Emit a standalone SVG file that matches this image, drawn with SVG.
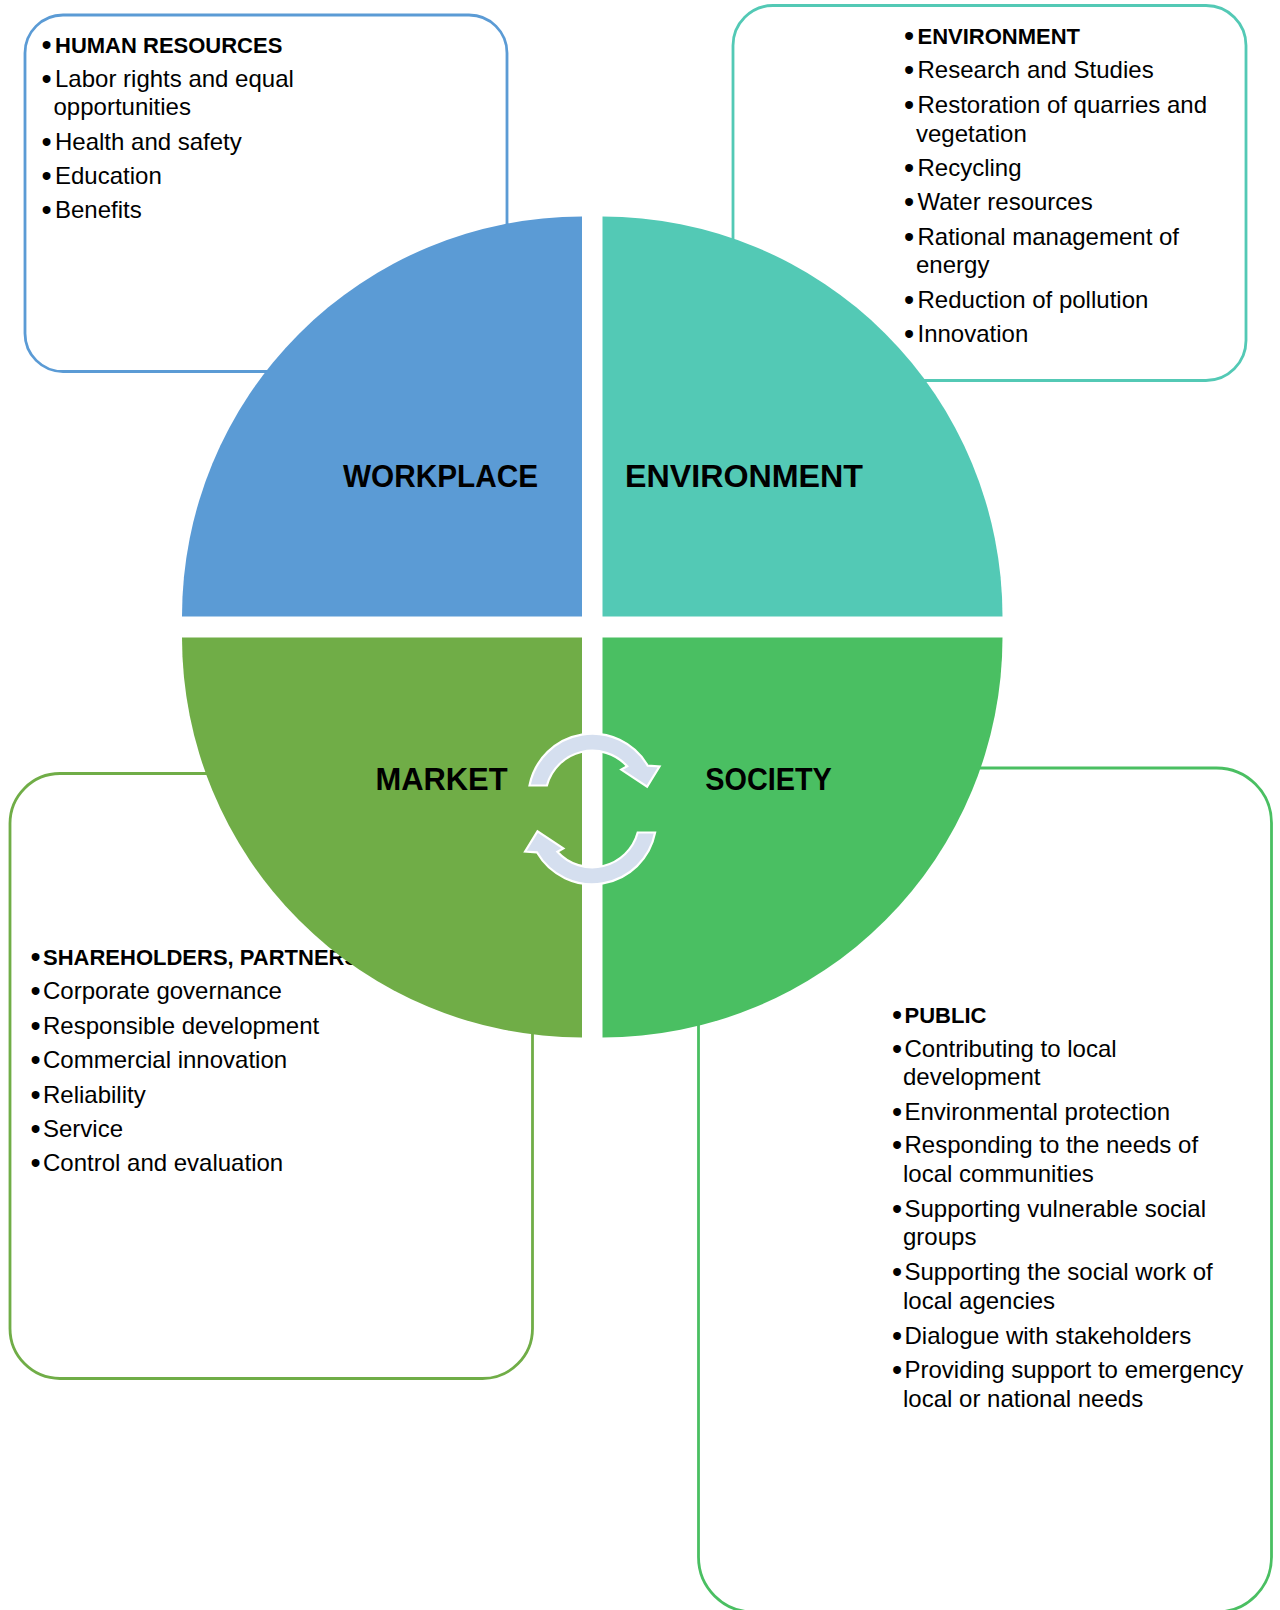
<svg xmlns="http://www.w3.org/2000/svg" width="1280" height="1610" viewBox="0 0 1280 1610">
  <style>
    .box { fill: #FFFFFF; stroke-width: 2.8; }
    .b-blue { stroke: #5B9BD5; }
    .b-teal { stroke: #53C9B5; }
    .b-olive { stroke: #70AD47; }
    .b-green { stroke: #4ABF62; }
    .item { font-family: "Liberation Sans", Arial, sans-serif; font-size: 24px; fill: #000000; }
    .head { font-family: "Liberation Sans", Arial, sans-serif; font-size: 22px; font-weight: bold; fill: #000000; }
    .dot { font-size: 29px; font-weight: normal; }
    .label { font-family: "Liberation Sans", Arial, sans-serif; font-size: 32px; font-weight: bold; fill: #000000; }
    .cyc { fill: #D5DFEF; stroke: #FFFFFF; stroke-width: 2.2; stroke-linejoin: miter; }
  </style>
  <defs>
    <!-- one curved arrow of the cycle; the second is the same shape turned half a turn -->
    <path id="cycle-arrow" d="M529.5,785.5 A64,64 0 0 1 647.7,765.7 L659.5,766.5 L647.1,786.6 L621.3,769.6 L627.2,766.3 A47,47 0 0 0 546.9,785.5 Z"/>
  </defs>

  <rect width="1280" height="1610" fill="#FFFFFF"/>

  <!-- detail boxes (drawn under the circle) -->
  <g id="box-human-resources">
    <rect class="box b-blue" x="25" y="15" width="482" height="356.5" rx="38" ry="38"/>
    <text class="head" y="52.7"><tspan class="dot" x="41.5" baseline-shift="-1.5">•</tspan><tspan x="55">HUMAN RESOURCES</tspan></text>
    <text class="item" y="87.3"><tspan class="dot" x="41.5" baseline-shift="-1.5">•</tspan><tspan x="55">Labor rights and equal</tspan></text>
    <text class="item" x="53.5" y="115">opportunities</text>
    <text class="item" y="150"><tspan class="dot" x="41.5" baseline-shift="-1.5">•</tspan><tspan x="55">Health and safety</tspan></text>
    <text class="item" y="184.3"><tspan class="dot" x="41.5" baseline-shift="-1.5">•</tspan><tspan x="55">Education</tspan></text>
    <text class="item" y="218.3"><tspan class="dot" x="41.5" baseline-shift="-1.5">•</tspan><tspan x="55">Benefits</tspan></text>
  </g>

  <g id="box-environment">
    <rect class="box b-teal" x="733" y="5.5" width="513" height="375" rx="40" ry="40"/>
    <text class="head" y="44"><tspan class="dot" x="904" baseline-shift="-1.5">•</tspan><tspan x="917.5">ENVIRONMENT</tspan></text>
    <text class="item" y="78.3"><tspan class="dot" x="904" baseline-shift="-1.5">•</tspan><tspan x="917.5">Research and Studies</tspan></text>
    <text class="item" y="113.3"><tspan class="dot" x="904" baseline-shift="-1.5">•</tspan><tspan x="917.5">Restoration of quarries and</tspan></text>
    <text class="item" x="916" y="141.7">vegetation</text>
    <text class="item" y="176"><tspan class="dot" x="904" baseline-shift="-1.5">•</tspan><tspan x="917.5">Recycling</tspan></text>
    <text class="item" y="210"><tspan class="dot" x="904" baseline-shift="-1.5">•</tspan><tspan x="917.5">Water resources</tspan></text>
    <text class="item" y="245"><tspan class="dot" x="904" baseline-shift="-1.5">•</tspan><tspan x="917.5">Rational management of</tspan></text>
    <text class="item" x="916" y="273.3">energy</text>
    <text class="item" y="308.3"><tspan class="dot" x="904" baseline-shift="-1.5">•</tspan><tspan x="917.5">Reduction of pollution</tspan></text>
    <text class="item" y="341.7"><tspan class="dot" x="904" baseline-shift="-1.5">•</tspan><tspan x="917.5">Innovation</tspan></text>
  </g>

  <g id="box-shareholders">
    <rect class="box b-olive" x="10" y="773.5" width="522.5" height="605" rx="50" ry="50"/>
    <text class="head" y="965"><tspan class="dot" x="30.5" baseline-shift="-1.5">•</tspan><tspan x="43">SHAREHOLDERS, PARTNERS</tspan></text>
    <text class="item" y="999.3"><tspan class="dot" x="30.5" baseline-shift="-1.5">•</tspan><tspan x="43">Corporate governance</tspan></text>
    <text class="item" y="1034.3"><tspan class="dot" x="30.5" baseline-shift="-1.5">•</tspan><tspan x="43">Responsible development</tspan></text>
    <text class="item" y="1068.3"><tspan class="dot" x="30.5" baseline-shift="-1.5">•</tspan><tspan x="43">Commercial innovation</tspan></text>
    <text class="item" y="1102.7"><tspan class="dot" x="30.5" baseline-shift="-1.5">•</tspan><tspan x="43">Reliability</tspan></text>
    <text class="item" y="1136.7"><tspan class="dot" x="30.5" baseline-shift="-1.5">•</tspan><tspan x="43">Service</tspan></text>
    <text class="item" y="1170.7"><tspan class="dot" x="30.5" baseline-shift="-1.5">•</tspan><tspan x="43">Control and evaluation</tspan></text>
  </g>

  <g id="box-public">
    <rect class="box b-green" x="698.5" y="768" width="573" height="844" rx="55" ry="55"/>
    <text class="head" y="1023.3"><tspan class="dot" x="892" baseline-shift="-1.5">•</tspan><tspan x="904.5">PUBLIC</tspan></text>
    <text class="item" y="1056.7"><tspan class="dot" x="892" baseline-shift="-1.5">•</tspan><tspan x="904.5">Contributing to local</tspan></text>
    <text class="item" x="903" y="1085">development</text>
    <text class="item" y="1120"><tspan class="dot" x="892" baseline-shift="-1.5">•</tspan><tspan x="904.5">Environmental protection</tspan></text>
    <text class="item" y="1153.3"><tspan class="dot" x="892" baseline-shift="-1.5">•</tspan><tspan x="904.5">Responding to the needs of</tspan></text>
    <text class="item" x="903" y="1181.7">local communities</text>
    <text class="item" y="1216.7"><tspan class="dot" x="892" baseline-shift="-1.5">•</tspan><tspan x="904.5">Supporting vulnerable social</tspan></text>
    <text class="item" x="903" y="1245">groups</text>
    <text class="item" y="1280"><tspan class="dot" x="892" baseline-shift="-1.5">•</tspan><tspan x="904.5">Supporting the social work of</tspan></text>
    <text class="item" x="903" y="1309.3">local agencies</text>
    <text class="item" y="1344"><tspan class="dot" x="892" baseline-shift="-1.5">•</tspan><tspan x="904.5">Dialogue with stakeholders</tspan></text>
    <text class="item" y="1378.3"><tspan class="dot" x="892" baseline-shift="-1.5">•</tspan><tspan x="904.5">Providing support to emergency</tspan></text>
    <text class="item" x="903" y="1406.7">local or national needs</text>
  </g>

  <!-- the four quarter discs -->
  <g id="quadrant-workplace">
    <path d="M582,616.5 L182,616.5 A400,400 0 0 1 582,216.5 Z" fill="#5B9BD5"/>
    <text class="label" x="343" y="486.7" textLength="195" lengthAdjust="spacingAndGlyphs">WORKPLACE</text>
  </g>
  <g id="quadrant-environment">
    <path d="M602.5,616.5 L602.5,216.5 A400,400 0 0 1 1002.5,616.5 Z" fill="#53C9B5"/>
    <text class="label" x="625" y="486.7" textLength="238" lengthAdjust="spacingAndGlyphs">ENVIRONMENT</text>
  </g>
  <g id="quadrant-market">
    <path d="M582,637.5 L582,1037.5 A400,400 0 0 1 182,637.5 Z" fill="#70AD47"/>
    <text class="label" x="375.5" y="790" textLength="132" lengthAdjust="spacingAndGlyphs">MARKET</text>
  </g>
  <g id="quadrant-society">
    <path d="M602.5,637.5 L1002.5,637.5 A400,400 0 0 1 602.5,1037.5 Z" fill="#4ABF62"/>
    <text class="label" x="705.3" y="790" textLength="126.5" lengthAdjust="spacingAndGlyphs">SOCIETY</text>
  </g>

  <!-- cycle arrows in the middle of the lower half -->
  <g id="connectors">
    <use href="#cycle-arrow" class="cyc"/>
    <use href="#cycle-arrow" class="cyc" transform="rotate(180 592.3 809)"/>
  </g>
</svg>
